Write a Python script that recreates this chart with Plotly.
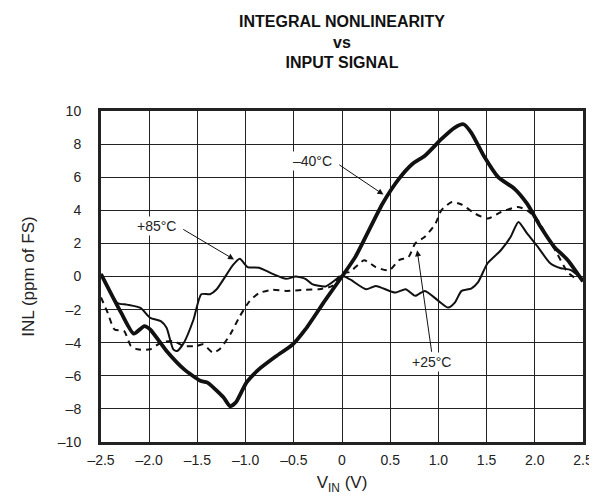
import plotly.graph_objects as go

# -40°C (thick solid)
x_m40 = [-2.5, -2.29, -2.16, -2.05, -1.99, -1.82, -1.64, -1.47, -1.40, -1.23, -1.16, -1.10, -0.99, -0.86, -0.68, -0.51, -0.38, -0.17, 0.0,
         0.14, 0.42, 0.59, 0.73, 0.86, 1.03, 1.17, 1.26, 1.34, 1.48, 1.62, 1.79, 1.92, 2.06, 2.20, 2.34, 2.5]
y_m40 = [0.15, -2.2, -3.45, -3.0, -3.2, -4.5, -5.6, -6.3, -6.4, -7.3, -7.84, -7.6, -6.4, -5.6, -4.8, -4.1, -3.2, -1.4, 0.0,
         1.2, 4.4, 5.9, 6.8, 7.3, 8.3, 9.0, 9.2, 8.7, 7.2, 6.0, 5.3, 4.4, 3.0, 1.8, 1.0, -0.3]

# +85°C (thin solid)
x_p85 = [-2.5, -2.33, -2.23, -2.09, -1.99, -1.88, -1.82, -1.75, -1.71, -1.64, -1.54, -1.46, -1.37, -1.30, -1.13, -1.06, -0.98, -0.86,
         -0.72, -0.58, -0.48, -0.38, -0.31, -0.17, 0.0, 0.08, 0.25, 0.35, 0.55, 0.66, 0.76, 0.86, 1.0, 1.10, 1.17, 1.24, 1.34, 1.41,
         1.51, 1.65, 1.75, 1.83, 1.92, 2.03, 2.16, 2.27, 2.37, 2.5]
y_p85 = [0.15, -1.6, -1.7, -1.9, -2.5, -2.7, -3.1, -4.4, -4.5, -4.0, -2.6, -1.07, -1.07, -0.77, 0.7, 1.07, 0.57, 0.53,
         0.16, -0.14, 0.0, -0.14, -0.46, -0.6, 0.04, -0.16, -0.77, -0.57, -0.97, -0.77, -1.17, -0.87, -1.47, -1.88, -1.58, -0.87, -0.73, -0.36,
         0.8, 1.6, 2.4, 3.3, 2.6, 1.8, 0.8, 0.5, 0.4, -0.2]

# +25°C (dashed)
x_p25 = [-2.5, -2.43, -2.36, -2.26, -2.19, -2.12, -1.99, -1.88, -1.75, -1.64, -1.51, -1.44, -1.34, -1.27, -1.16, -1.06, -0.96, -0.86,
         -0.72, -0.58, -0.38, -0.24, -0.10, 0.0, 0.08, 0.23, 0.35, 0.49, 0.59, 0.69, 0.76, 0.86, 0.97, 1.03, 1.14, 1.24, 1.38, 1.51,
         1.65, 1.82, 1.92, 2.03, 2.13, 2.23, 2.34, 2.42]
y_p25 = [-1.27, -2.2, -3.2, -3.3, -4.2, -4.4, -4.4, -4.0, -3.9, -4.2, -4.2, -4.1, -4.6, -4.4, -3.5, -2.4, -1.5, -1.0,
         -0.8, -0.87, -0.8, -0.77, -0.57, 0.2, 0.27, 0.98, 0.57, 0.37, 0.98, 1.18, 2.0, 2.4, 3.2, 4.0, 4.5, 4.35, 3.8, 3.5,
         3.9, 4.2, 4.0, 3.4, 2.4, 1.4, 0.27, -0.1]

x_ticks = [-2.5, -2.0, -1.5, -1.0, -0.5, 0, 0.5, 1.0, 1.5, 2.0, 2.5]
x_ticklabels = ["–2.5", "–2.0", "–1.5", "–1.0", "–0.5", "0", "0.5", "1.0", "1.5", "2.0", "2.5"]
y_ticks = [-10, -8, -6, -4, -2, 0, 2, 4, 6, 8, 10]
y_ticklabels = ["–10", "–8", "–6", "–4", "–2", "0", "2", "4", "6", "8", "10"]

FONT = "Liberation Sans, Arial, sans-serif"

fig = go.Figure()
fig.add_trace(go.Scatter(x=x_p25, y=y_p25, mode="lines", line=dict(color="#111", width=2, dash="6px,5px", shape="spline", smoothing=0.6), showlegend=False))
fig.add_trace(go.Scatter(x=x_p85, y=y_p85, mode="lines", line=dict(color="#111", width=2, shape="spline", smoothing=0.6), showlegend=False))
fig.add_trace(go.Scatter(x=x_m40, y=y_m40, mode="lines", line=dict(color="#111", width=3.8, shape="spline", smoothing=0.6), showlegend=False))

ann_font = dict(family=FONT, size=14, color="#222")
arrow_style = dict(xref="x", yref="y", axref="x", ayref="y", showarrow=True, arrowhead=2,
                   arrowsize=1.2, arrowwidth=1, arrowcolor="#111", font=ann_font, bgcolor="white",
                   borderpad=1)
fig.add_annotation(x=0.43, y=4.95, ax=-0.08, ay=6.95, text="–40°C", xanchor="right", yanchor="middle",
                   startstandoff=6, **arrow_style)
fig.add_annotation(x=-1.12, y=1.03, ax=-1.70, ay=3.03, text="+85°C", xanchor="right", yanchor="middle",
                   startstandoff=6, **arrow_style)
fig.add_annotation(x=0.78, y=1.58, ax=0.93, ay=-4.55, text="+25°C", xanchor="center", yanchor="top",
                   startstandoff=0, **arrow_style)

fig.update_layout(
    width=597, height=496,
    margin=dict(l=93, r=18, t=103, b=62),
    paper_bgcolor="white", plot_bgcolor="white",
    font=dict(family=FONT, size=14, color="#222"),
    title=dict(text="<b>INTEGRAL NONLINEARITY</b><br><b>vs</b><br><b>INPUT SIGNAL</b>",
               x=0.5, xref="paper", xanchor="center", y=0.962, yanchor="top",
               font=dict(family=FONT, size=16, color="#111")),
)
fig.update_xaxes(range=[-2.5, 2.5], tickvals=x_ticks, ticktext=x_ticklabels, showgrid=True,
                 gridcolor="#222", gridwidth=1, zeroline=False, showline=True, linecolor="#222",
                 linewidth=3, mirror=True, ticks="", ticklabelstandoff=3,
                 title=dict(text="V<sub>IN</sub> (V)", standoff=10),
                 tickfont=dict(size=14))
fig.update_yaxes(range=[-10, 10], tickvals=y_ticks, ticktext=y_ticklabels, showgrid=True,
                 gridcolor="#222", gridwidth=1, zeroline=False, showline=True, linecolor="#222",
                 linewidth=3, mirror=True, ticks="", ticklabelstandoff=14,
                 title=dict(text="INL (ppm of FS)", standoff=19),
                 tickfont=dict(size=14))

fig.write_html("out.html")
